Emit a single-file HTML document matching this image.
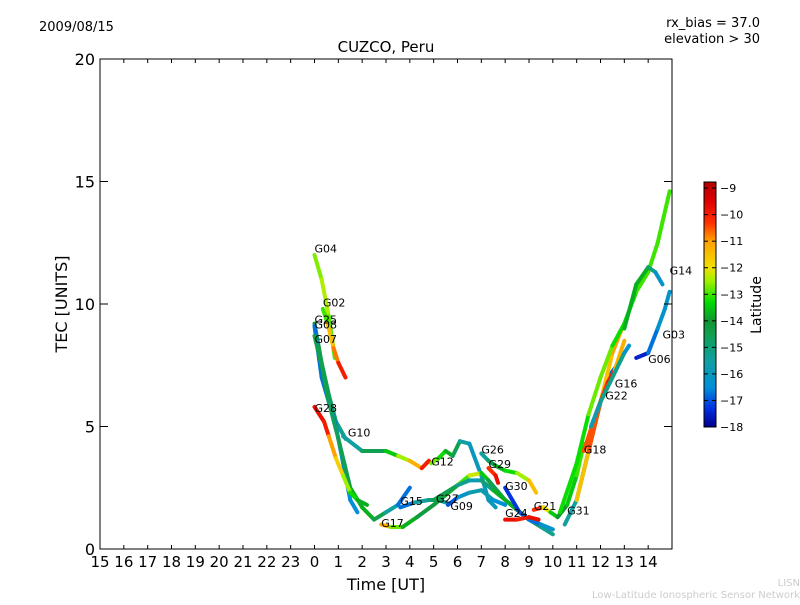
<!DOCTYPE html>
<html><head><meta charset="utf-8"><style>
body{margin:0;background:#fff}
svg{font-family:"DejaVu Sans","Liberation Sans",sans-serif}
</style></head><body>
<svg id="c" width="800" height="600" xmlns="http://www.w3.org/2000/svg">
<rect width="800" height="600" fill="#fff"/>
<text x="39" y="31" font-size="13">2009/08/15</text>
<text x="386" y="52" font-size="15" text-anchor="middle">CUZCO, Peru</text>
<text x="760" y="27" font-size="13" text-anchor="end">rx_bias = 37.0</text>
<text x="760" y="43" font-size="13" text-anchor="end">elevation &gt; 30</text>
<text transform="translate(67,304) rotate(-90)" font-size="16" text-anchor="middle">TEC [UNITS]</text>
<text x="386" y="590" font-size="16" text-anchor="middle">Time [UT]</text>
<text transform="translate(761,305) rotate(-90)" font-size="14" text-anchor="middle">Latitude</text>
<text x="800" y="586" font-size="10" fill="#ccc" text-anchor="end">LISN</text>
<text x="800" y="598" font-size="10" fill="#ccc" text-anchor="end">Low-Latitude Ionospheric Sensor Network</text>
<g id="marks"></g>
<g id="axes"></g>
</svg>
<script>
const xTickLabels=[15,16,17,18,19,20,21,22,23,0,1,2,3,4,5,6,7,8,9,10,11,12,13,14];
const yTicks=[0,5,10,15,20];
const cbTicks=[-9,-10,-11,-12,-13,-14,-15,-16,-17,-18];
const satNames=["G04","G02","G25","G08","G07","G28","G10","G12","G15","G17","G27","G09","G26","G29","G30","G24","G21","G31","G18","G22","G16","G14","G14b","G03"];
const satTracks=[
[[0,12.0,-12.8],[0.3,11.0,-12.5],[0.6,9.5,-12.3],[0.85,7.8,-13.5]],
[[0.35,9.8,-14],[0.55,9.2,-12],[0.8,8.2,-11],[1.0,7.6,-10.5],[1.3,7.0,-9.5]],
[[0,9.2,-14],[0.3,7.6,-14.5],[0.6,6.3,-14.5],[0.9,5.2,-15],[1.3,4.5,-15.5]],
[[0,9.1,-17],[0.3,7.0,-16.5],[0.6,6.0,-17],[0.9,5.0,-16.5],[1.2,3.5,-16.5],[1.5,2.0,-16.5],[1.8,1.5,-16.5]],
[[0,8.7,-14.5],[0.3,7.5,-14.5],[0.6,6.0,-14.5],[1.0,4.5,-15],[1.5,2.5,-14],[2.0,1.7,-13.5],[2.5,1.2,-14],[3.0,1.5,-15],[3.5,1.8,-16],[4.0,2.5,-17.5]],
[[0,5.8,-10],[0.4,5.2,-9.5],[0.6,4.6,-10.5],[0.9,3.7,-11.5],[1.2,3.0,-12],[1.5,2.3,-13],[1.8,2.0,-13.5],[2.2,1.8,-14]],
[[1.2,4.6,-16],[2.0,4.0,-15],[3.0,4.0,-14],[3.5,3.8,-13],[4.0,3.6,-12],[4.5,3.3,-10.5],[4.8,3.6,-9.5]],
[[4.9,3.5,-12.5],[5.2,3.7,-13],[5.5,4.0,-13.5],[5.8,3.8,-14],[6.1,4.4,-15],[6.5,4.3,-16],[7.0,3.0,-16],[7.3,2.0,-16],[7.6,1.7,-16]],
[[3.6,1.7,-17.5],[4.2,1.9,-16],[4.8,2.0,-15],[5.2,2.0,-15],[5.5,1.9,-16]],
[[2.8,1.0,-10.5],[3.2,0.9,-12],[3.7,0.9,-13.5],[4.3,1.3,-14],[5.0,1.8,-14.5],[5.5,2.2,-14],[6.0,2.6,-13.5],[6.5,3.0,-12.5],[7.0,3.1,-12],[7.3,2.8,-15],[8.0,2.0,-14],[8.5,1.6,-13],[9.0,1.2,-12]],
[[5.0,2.0,-15],[5.5,2.3,-14],[6.0,2.6,-15],[6.5,2.8,-15.5],[7.0,2.8,-16],[7.5,2.4,-14],[8.0,2.0,-13.5],[8.5,1.6,-14],[9.0,1.2,-14.5],[9.5,0.9,-15],[10.0,0.6,-15.5]],
[[5.6,1.8,-17.5],[6.0,2.1,-16.5],[6.5,2.3,-16],[7.0,2.4,-15.5],[7.5,2.0,-16],[8.0,1.8,-17]],
[[7.0,3.9,-16],[7.3,3.6,-15],[7.6,3.4,-14],[8.0,3.2,-13.5],[8.5,3.1,-13],[9.0,2.8,-12],[9.3,2.3,-11]],
[[7.3,3.3,-10.5],[7.6,3.0,-10],[7.7,2.7,-9.5]],
[[8.0,2.5,-17],[8.3,2.0,-17.5],[8.6,1.5,-17],[9.0,1.2,-17],[9.5,1.0,-16.5],[10.0,0.8,-16]],
[[8.0,1.2,-9.5],[8.5,1.2,-10],[9.0,1.3,-10],[9.4,1.2,-9.5]],
[[9.2,1.6,-9.5],[9.6,1.7,-11],[9.9,1.5,-13],[10.2,1.3,-14],[10.6,1.8,-14],[11.0,3.0,-13],[11.3,4.3,-13]],
[[10.5,1.0,-16],[11.0,2.0,-15],[11.5,4.0,-14.5],[12.0,6.0,-14],[12.3,7.0,-16],[12.7,7.5,-17.5]],
[[11.0,2.0,-13],[11.5,4.0,-10],[12.0,6.0,-11],[12.5,8.0,-12],[12.9,9.0,-10]],
[[11.3,4.0,-10],[11.8,5.5,-11],[12.3,6.8,-9.5],[12.6,7.3,-10.5],[13.0,8.5,-12]],
[[11.6,5.0,-16],[12.0,6.0,-15.5],[12.5,7.0,-15],[13.0,8.0,-15.5],[13.2,8.3,-17]],
[[10.3,1.5,-13],[11.0,3.5,-13.5],[11.5,5.5,-13],[12.0,7.0,-12.5],[12.5,8.3,-13],[13.0,9.2,-13.5],[13.5,10.5,-13],[14.0,11.3,-13],[14.4,12.5,-13],[14.9,14.6,-13]],
[[13.0,9.0,-14],[13.5,10.8,-13.5],[14.0,11.5,-14],[14.3,11.3,-16],[14.6,10.8,-16.5]],
[[13.5,7.8,-18],[14.0,8.0,-17],[14.4,9.0,-16.5],[14.7,9.8,-16],[14.9,10.5,-16.5]]
];
const labelNames=["G04","G02","G25","G08","G07","G28","G10","G12","G26","G29","G30","G15","G27","G09","G17","G24","G21","G31","G18","G22","G16","G06","G03","G14"];
const labelPos=[[0,12.1],[0.35,9.9],[0,9.2],[0,9.0],[0,8.4],[0,5.6],[1.4,4.6],[4.9,3.4],[7.0,3.9],[7.3,3.3],[8.0,2.4],[3.6,1.8],[5.1,1.9],[5.7,1.6],[2.8,0.9],[8.0,1.3],[9.2,1.6],[10.6,1.4],[11.3,3.9],[12.2,6.1],[12.6,6.6],[14.0,7.6],[14.6,8.6],[14.9,11.2]];

const L=100,R=672,T=59,B=549,hw=(R-L)/24;
function xS(ut){const h=ut<15?ut+9:ut-15;return L+h*hw;}
function yS(v){return B-(v/20)*(B-T);}
const cbT=182,cbB=427,latMin=-18,latMax=-8.77;
function cbY(l){return cbB-(l-latMin)/(latMax-latMin)*(cbB-cbT);}
const cmap=[[-18,[0,0,140]],[-17.3,[0,48,224]],[-16.5,[0,144,216]],[-15.5,[16,160,160]],[-14.5,[16,160,80]],[-14,[16,150,48]],[-13.3,[0,221,0]],[-12.5,[160,240,0]],[-12,[240,224,0]],[-11,[255,160,0]],[-10.3,[255,48,0]],[-9.5,[224,0,0]],[-8.77,[176,0,0]]];
function jet(l){
 if(l<=cmap[0][0])return `rgb(${cmap[0][1]})`;
 for(let i=0;i<cmap.length-1;i++){const a=cmap[i],b=cmap[i+1];
  if(l<=b[0]){const t=(l-a[0])/(b[0]-a[0]);const c=a[1].map((v,k)=>Math.round(v+(b[1][k]-v)*t));return `rgb(${c})`;}}
 return `rgb(${cmap[cmap.length-1][1]})`;}
const NS="http://www.w3.org/2000/svg";
function mk(t,a,p){const e=document.createElementNS(NS,t);for(const k in a)e.setAttribute(k,a[k]);p.appendChild(e);return e;}
const marks=document.getElementById('marks'),axes=document.getElementById('axes');
satTracks.forEach((tr,i)=>{
 const g=mk('g',{},marks);
 
 
 for(let j=0;j<tr.length-1;j++){
  const a=tr[j],b=tr[j+1];
  const s=mk('line',{x1:xS(a[0]),y1:yS(a[1]),x2:xS(b[0]),y2:yS(b[1]),stroke:jet((a[2]+b[2])/2),'stroke-width':4,'stroke-linecap':'round'},g);
  
  
 }
});
labelNames.forEach((n,i)=>{
 const t=mk('text',{x:xS(labelPos[i][0]),y:yS(labelPos[i][1]),'font-size':11},marks);
 t.textContent=n;
 
 
});
const frame=mk('rect',{x:L,y:T,width:R-L,height:B-T,fill:'none',stroke:'#000','stroke-width':1},axes);


xTickLabels.forEach((lab,i)=>{
 const x=L+i*hw;
 mk('line',{x1:x,y1:B,x2:x,y2:B-4,stroke:'#000'},axes);
 mk('line',{x1:x,y1:T,x2:x,y2:T+4,stroke:'#000'},axes);
 const t=mk('text',{x:x,y:B+18,'font-size':15,'text-anchor':'middle'},axes);
 t.textContent=lab;
 
 
});
yTicks.forEach(v=>{
 const y=yS(v);
 mk('line',{x1:L,y1:y,x2:L+8,y2:y,stroke:'#000'},axes);
 mk('line',{x1:R,y1:y,x2:R-8,y2:y,stroke:'#000'},axes);
 const t=mk('text',{x:L-5,y:y+6,'font-size':16,'text-anchor':'end'},axes);
 t.textContent=v;
 
 
});
const cb=mk('g',{},axes);


for(let y=cbT;y<cbB;y++){mk('rect',{x:704,y:y,width:12,height:1.2,fill:jet(latMin+(cbB-y-0.5)/(cbB-cbT)*(latMax-latMin))},cb);}
mk('rect',{x:704,y:cbT,width:12,height:cbB-cbT,fill:'none',stroke:'#000'},cb);
cbTicks.forEach(l=>{
 const y=cbY(l);
 mk('line',{x1:704,y1:y,x2:708,y2:y,stroke:'#000'},cb);
 mk('line',{x1:716,y1:y,x2:712,y2:y,stroke:'#000'},cb);
 const t=mk('text',{x:720,y:y+4,'font-size':11},cb);
 t.textContent='\u2212'+Math.abs(l);
 
 
});
</script>
</body></html>
